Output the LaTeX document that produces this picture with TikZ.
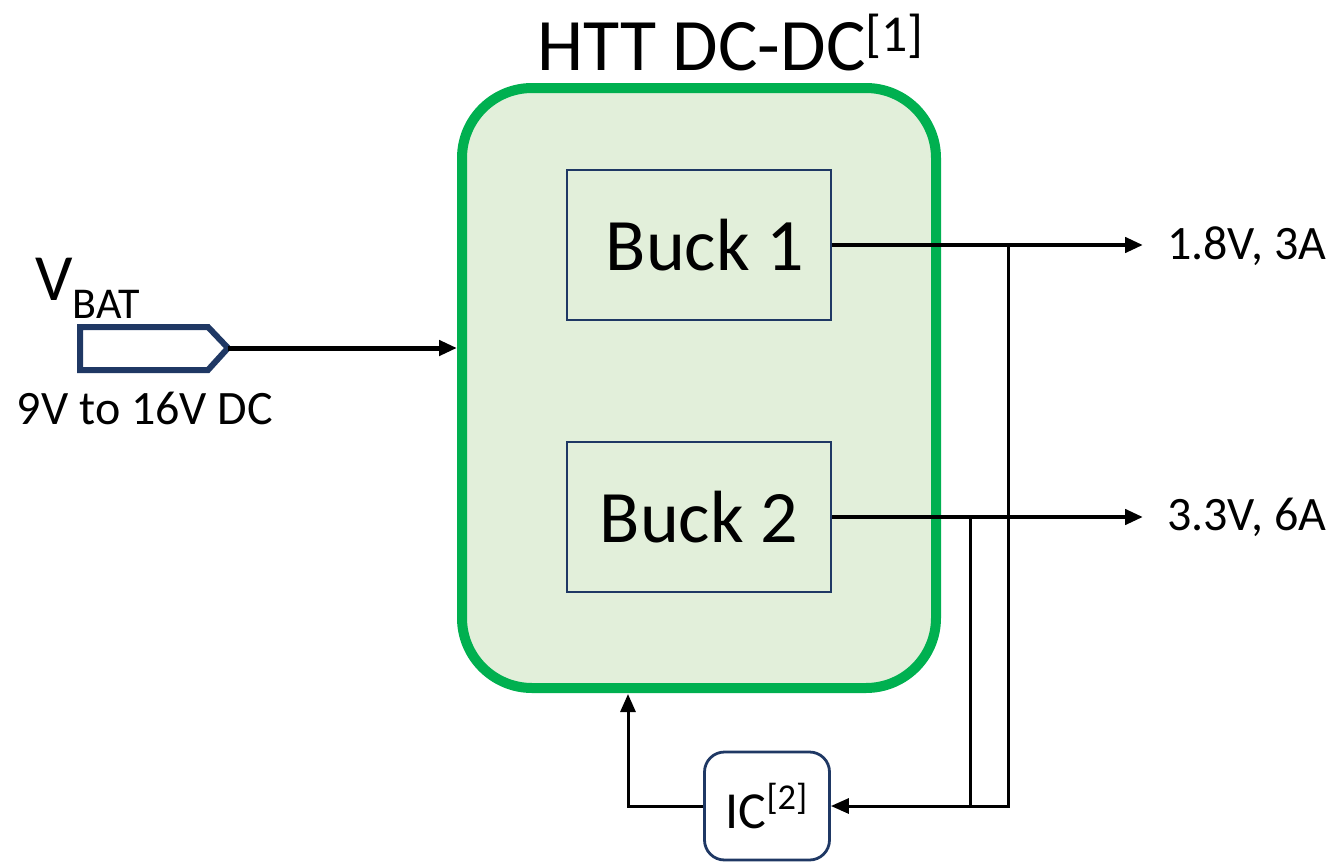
\documentclass[tikz,border=0pt]{standalone}
\usepackage{fontspec}
\setmainfont{Carlito}
\usetikzlibrary{arrows.meta}
\definecolor{boxgreen}{HTML}{00B050}
\definecolor{boxfill}{HTML}{E2EFDA}
\definecolor{navy}{HTML}{1F3864}
\newcommand{\fs}[1]{\fontsize{#1}{#1}\selectfont}
\begin{document}
\begin{tikzpicture}[x=0.5pt,y=-0.5pt,
	wire/.style={line width=1.5pt, -{Triangle[length=9pt,width=7.5pt]}},
	buckbox/.style={draw=navy, line width=1.4pt, minimum width=132pt, minimum height=75pt, font=\fs{37}},
	outlabel/.style={anchor=west, font=\fs{24}}]
\useasboundingbox (0,0) rectangle (1329,862);

% converter block
\node[draw=boxgreen, fill=boxfill, line width=5pt, rounded corners=35pt,
	minimum width=237pt, minimum height=300pt] (htt) at (699,388) {};
\node[anchor=base west, font=\fs{37}] (title) at (530,70) {HTT DC-DC\textsuperscript{[1]}};

\node[buckbox] (buck1) at (699,245) {\hspace{6pt}Buck 1};
\node[buckbox] (buck2) at (699,517) {Buck 2};

% battery input
\draw[navy, line width=3pt] (80,327) -- (208,327) -- (228,348) -- (208,370) -- (80,370) -- cycle;
\coordinate (vtip) at (228,348);
\node[anchor=base west, font=\fs{33}] (vbat) at (28,300) {V\raisebox{-9pt}{\fs{22}BAT}};
\node[font=\fs{24}] (vrange) at (145,408) {9V to 16V DC};
\draw[wire, line width=2.5pt] (vtip) -- (vtip -| htt.west);

% outputs
\coordinate (out1) at (1143,245);
\coordinate (out2) at (1143,517);
\draw[wire, line width=2.2pt] (buck1.east) -- (out1);
\draw[wire, line width=2.2pt] (buck2.east) -- (out2);
\node[outlabel] (lab1) at (1160,246) {1.8V, 3A};
\node[outlabel] (lab2) at (1160,517) {3.3V, 6A};

% feedback
\node[draw=navy, line width=1.4pt, rounded corners=10pt, minimum width=62.5pt,
	minimum height=54pt, font=\fs{26}] (ic) at (767,806) {IC\textsuperscript{[2]}};
\coordinate (j1) at (1008,245);
\coordinate (j2) at (970,517);
\coordinate (fb) at (628,694);
\draw[wire] (j1) |- (ic.east);
\draw[line width=1.5pt] (j2) -- (j2 |- ic.east);
\draw[wire] (ic.west) -| (fb);
\end{tikzpicture}
\end{document}
